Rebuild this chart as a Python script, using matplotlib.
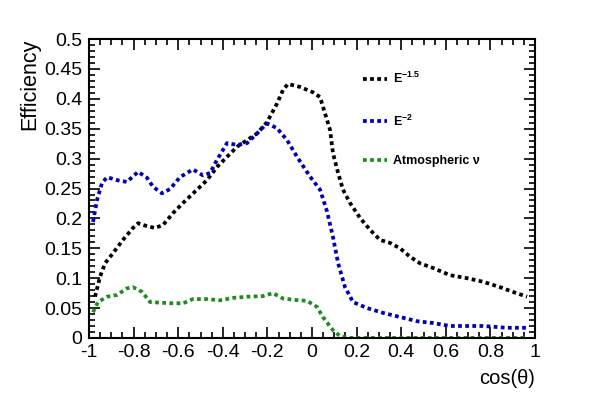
import numpy as np
import matplotlib.pyplot as plt
from matplotlib.ticker import MultipleLocator

plt.rcParams['font.family'] = ['Liberation Sans', 'DejaVu Sans']
plt.rcParams['mathtext.fontset'] = 'custom'
plt.rcParams['mathtext.rm'] = 'Liberation Sans'
plt.rcParams['mathtext.bf'] = 'Liberation Sans:bold'

# E^-1.5 spectrum
x_e15 = [-0.973, -0.951, -0.928, -0.892, -0.848, -0.803, -0.78, -0.74, -0.704, -0.668,
         -0.623, -0.578, -0.516, -0.471, -0.426, -0.381, -0.336, -0.291, -0.247, -0.202,
         -0.157, -0.130, -0.108, -0.054, 0.004, 0.036, 0.058, 0.081, 0.094, 0.117,
         0.139, 0.170, 0.215, 0.260, 0.305, 0.350, 0.395, 0.439, 0.484, 0.543,
         0.619, 0.695, 0.767, 0.843, 0.901, 0.964]
y_e15 = [0.069, 0.102, 0.125, 0.142, 0.164, 0.184, 0.192, 0.187, 0.184, 0.189,
         0.209, 0.226, 0.248, 0.264, 0.286, 0.303, 0.320, 0.331, 0.342, 0.361,
         0.392, 0.415, 0.425, 0.420, 0.411, 0.403, 0.376, 0.348, 0.309, 0.276,
         0.248, 0.226, 0.201, 0.181, 0.164, 0.159, 0.150, 0.136, 0.125, 0.117,
         0.105, 0.100, 0.094, 0.085, 0.077, 0.069]

# E^-2 spectrum
x_e2 = [-0.982, -0.964, -0.942, -0.919, -0.874, -0.830, -0.780, -0.740, -0.713, -0.673,
        -0.637, -0.592, -0.534, -0.489, -0.457, -0.426, -0.381, -0.336, -0.291, -0.247,
        -0.202, -0.157, -0.112, -0.067, -0.009, 0.036, 0.067, 0.094, 0.117, 0.148,
        0.184, 0.247, 0.318, 0.395, 0.471, 0.543, 0.619, 0.767, 0.874, 0.964]
y_e2 = [0.194, 0.231, 0.259, 0.269, 0.264, 0.261, 0.278, 0.268, 0.253, 0.242,
        0.249, 0.269, 0.282, 0.272, 0.276, 0.298, 0.326, 0.323, 0.326, 0.342,
        0.359, 0.351, 0.331, 0.303, 0.270, 0.248, 0.212, 0.169, 0.125, 0.085,
        0.060, 0.050, 0.042, 0.035, 0.028, 0.025, 0.020, 0.020, 0.017, 0.017]

# atmospheric neutrinos
x_atm = [-0.982, -0.960, -0.919, -0.874, -0.830, -0.803, -0.762, -0.726, -0.682, -0.623,
         -0.578, -0.534, -0.471, -0.413, -0.354, -0.291, -0.220, -0.175, -0.130, -0.085,
         -0.022, 0.022, 0.049, 0.081, 0.094, 0.126, 0.170, 0.4, 0.7, 0.964]
y_atm = [0.043, 0.060, 0.069, 0.072, 0.083, 0.085, 0.077, 0.060, 0.059, 0.058,
         0.058, 0.065, 0.065, 0.063, 0.067, 0.069, 0.070, 0.075, 0.066, 0.064,
         0.062, 0.052, 0.035, 0.019, 0.013, 0.003, 0.0, 0.0, 0.0, 0.0]

labels = [r'E$^{\mathbf{-1.5}}$', r'E$^{\mathbf{-2}}$', 'Atmospheric \u03bd']
colors = ['black', '#0000b4', '#1e8c1e']

fig = plt.figure(figsize=(5.95, 3.99), dpi=100)
ax = fig.add_axes([0.1496, 0.153, 0.7496, 0.749])

dots = (0, (1.0, 0.9))
ax.plot(x_e15, y_e15, color=colors[0], lw=2.7, ls=dots, label=labels[0])
ax.plot(x_e2, y_e2, color=colors[1], lw=2.7, ls=dots, label=labels[1])
ax.plot(x_atm, y_atm, color=colors[2], lw=2.7, ls=dots, label=labels[2])

ax.set_xlim(-1, 1)
ax.set_ylim(0, 0.5)
ax.xaxis.set_minor_locator(MultipleLocator(0.05))
ax.yaxis.set_minor_locator(MultipleLocator(0.01))
ax.set_xticks(np.arange(-1, 1.01, 0.2))
ax.set_xticklabels(['-1', '-0.8', '-0.6', '-0.4', '-0.2', '0', '0.2', '0.4', '0.6', '0.8', '1'])
ax.set_yticks(np.arange(0, 0.501, 0.05))
ax.set_yticklabels(['0', '0.05', '0.1', '0.15', '0.2', '0.25', '0.3', '0.35', '0.4', '0.45', '0.5'])

ax.tick_params(which='both', direction='in', top=True, right=True, labelsize=14, width=1.2)
ax.tick_params(which='major', length=8)
ax.tick_params(which='minor', length=4)
ax.tick_params(axis='x', pad=4)
ax.tick_params(axis='y', pad=5)
for s in ax.spines.values():
    s.set_linewidth(1.5)

ax.set_ylabel('Efficiency', fontsize=15.5, loc='top', labelpad=3)
ax.set_xlabel('cos(\u03b8)', fontsize=14.5, loc='right', labelpad=6)

leg = ax.legend(loc='upper left', bbox_to_anchor=(0.59, 0.93), frameon=False,
                handlelength=1.9, handletextpad=0.5, labelspacing=2.15,
                prop={'weight': 'bold', 'size': 9})

fig.savefig('out.png', dpi=100)
